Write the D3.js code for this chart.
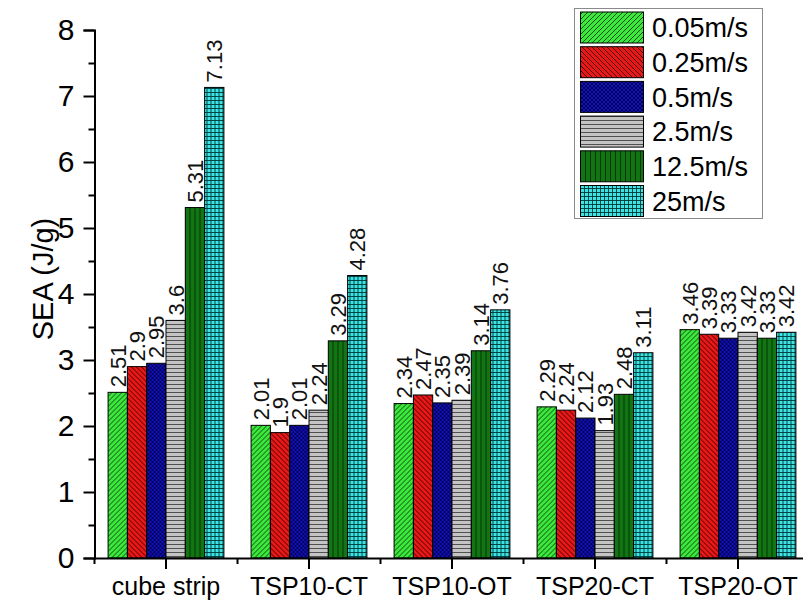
<!DOCTYPE html>
<html>
<head>
<meta charset="utf-8">
<script src="https://cdn.jsdelivr.net/npm/d3@7"></script>
<style>
  body { margin: 0; background: #fff; }
  svg { display: block; font-family: "Liberation Sans", Arial, sans-serif; }
</style>
</head>
<body>
<svg id="chart" width="803" height="601"></svg>
<script>
const categories = ["cube strip", "TSP10-CT", "TSP10-OT", "TSP20-CT", "TSP20-OT"];
const seriesNames = ["0.05m/s", "0.25m/s", "0.5m/s", "2.5m/s", "12.5m/s", "25m/s"];
const v005 = [2.51, 2.01, 2.34, 2.29, 3.46];
const v025 = [2.9, 1.9, 2.47, 2.24, 3.39];
const v05  = [2.95, 2.01, 2.35, 2.12, 3.33];
const v25  = [3.6, 2.24, 2.39, 1.93, 3.42];
const v125 = [5.31, 3.29, 3.14, 2.48, 3.33];
const v250 = [7.13, 4.28, 3.76, 3.11, 3.42];
const seriesValues = [v005, v025, v05, v25, v125, v250];
const yTicks = [0, 1, 2, 3, 4, 5, 6, 7, 8];
const yMinorTicks = [0.5, 1.5, 2.5, 3.5, 4.5, 5.5, 6.5, 7.5];
const yLabel = "SEA (J/g)";

const fills = ["#3de83d", "#e81818", "#1212b8", "#c4c4c4", "#127412", "#3ee4e4"];
const lineCols = ["#0a3a0a", "#3a0000", "#000050", "#444444", "#003000", "#003838"];

const svg = d3.select("#chart");
const defs = svg.append("defs");

function makePattern(i, size, lines) {
  const p = defs.append("pattern").attr("id", "pat" + i)
    .attr("patternUnits", "userSpaceOnUse").attr("width", size).attr("height", size);
  p.append("rect").attr("width", size).attr("height", size).attr("fill", fills[i]);
  lines.forEach(l => p.append("line")
    .attr("x1", l[0]).attr("y1", l[1]).attr("x2", l[2]).attr("y2", l[3])
    .attr("stroke", lineCols[i]).attr("stroke-width", 0.9));
}
// 0: forward diagonal
makePattern(0, 5, [[0, 5, 5, 0], [-1, 1, 1, -1], [4, 6, 6, 4]]);
// 1: back diagonal
makePattern(1, 5, [[0, 0, 5, 5], [-1, 4, 1, 6], [4, -1, 6, 1]]);
// 2: crosshatch diagonal
makePattern(2, 4, [[0, 4, 4, 0], [0, 0, 4, 4], [-1, 1, 1, -1], [3, 5, 5, 3], [-1, 3, 1, 5], [3, -1, 5, 1]]);
// 3: horizontal
makePattern(3, 4, [[0, 0.5, 4, 0.5]]);
// 4: vertical
makePattern(4, 5, [[0.5, 0, 0.5, 5]]);
// 5: grid
makePattern(5, 4, [[0.5, 0, 0.5, 4], [0, 0.5, 4, 0.5]]);

const x0 = d3.scaleBand().domain(categories).range([94.5, 809.5]).padding(0);
const x1 = d3.scaleBand().domain(d3.range(seriesNames.length))
  .range([x0.bandwidth() * 0.095, x0.bandwidth() * 0.905]).padding(0);
const y = d3.scaleLinear().domain([0, 8]).range([558, 30]);

// bars
const groups = svg.append("g").selectAll("g").data(categories).join("g")
  .attr("transform", d => `translate(${x0(d)},0)`);
groups.each(function(cat, ci) {
  const g = d3.select(this);
  seriesValues.forEach((vals, si) => {
    const v = vals[ci];
    g.append("rect")
      .attr("x", x1(si)).attr("y", y(v))
      .attr("width", x1.bandwidth()).attr("height", y(0) - y(v))
      .attr("fill", `url(#pat${si})`).attr("stroke", "#000").attr("stroke-width", 1);
    g.append("text")
      .attr("transform", `translate(${x1(si) + x1.bandwidth() / 2},${y(v) - 5}) rotate(-90)`)
      .attr("dy", "0.36em").attr("text-anchor", "start")
      .attr("font-size", 22).attr("fill", "#111").text(v);
  });
});

// y axis
const yAxis = svg.append("g").attr("transform", "translate(94.5,0)")
  .call(d3.axisLeft(y).tickValues(yTicks).tickSize(11).tickPadding(9).tickFormat(d3.format("d")));
svg.append("g").attr("transform", "translate(94.5,0)")
  .call(d3.axisLeft(y).tickValues(yMinorTicks).tickSize(6).tickFormat(""))
  .select(".domain").remove();
yAxis.selectAll("text").attr("font-size", 30).attr("fill", "#000")
  .attr("font-family", "Liberation Sans, Arial, sans-serif");

// x axis
const xAxis = svg.append("g").attr("transform", "translate(0,558)")
  .call(d3.axisBottom(x0).tickSize(11).tickPadding(8).tickSizeOuter(0));
xAxis.selectAll("text").attr("font-size", 25).attr("fill", "#000")
  .attr("font-family", "Liberation Sans, Arial, sans-serif");
const boundaries = categories.map(c => x0(c));
svg.append("g").selectAll("line").data(boundaries.concat([x0.range()[1]])).join("line")
  .attr("x1", d => d).attr("x2", d => d).attr("y1", 558).attr("y2", 564)
  .attr("stroke", "#000").attr("stroke-width", 2);

svg.selectAll(".domain").attr("stroke-width", 2);
svg.selectAll(".tick line").attr("stroke-width", 2);

// y label
svg.append("text")
  .attr("transform", `translate(53,${(y(0) + y(8)) / 2 - 15}) rotate(-90)`)
  .attr("text-anchor", "middle").attr("font-size", 29).attr("fill", "#000")
  .text(yLabel);

// legend
const lg = svg.append("g");
lg.append("rect").attr("x", 574.5).attr("y", 8.5).attr("width", 188).attr("height", 210)
  .attr("fill", "#fff").attr("stroke", "#8a8a8a").attr("stroke-width", 1);
seriesNames.forEach((name, i) => {
  const yy = 12 + i * 34.7;
  lg.append("rect").attr("x", 580.5).attr("y", yy).attr("width", 63).attr("height", 31)
    .attr("fill", `url(#pat${i})`).attr("stroke", "#000").attr("stroke-width", 1);
  lg.append("text").attr("x", 652).attr("y", yy + 15.5).attr("dy", "0.36em")
    .attr("font-size", 27).attr("fill", "#000").text(name);
});
</script>
</body>
</html>
